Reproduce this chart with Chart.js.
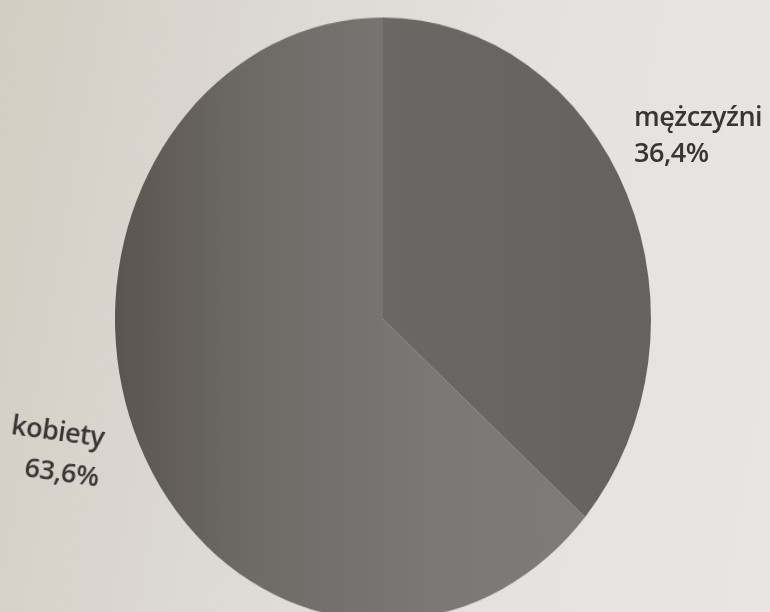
<!DOCTYPE html>
<html>
<head>
<meta charset="utf-8">
<script src="https://cdn.jsdelivr.net/npm/chart.js@4"></script>
<style>
  html, body { margin: 0; padding: 0; }
  body {
    width: 770px; height: 612px; overflow: hidden; position: relative;
    background: linear-gradient(100deg, #d3cdc3 0%, #dcd8d2 30%, #e4e1de 60%, #e8e6e5 100%);
    font-family: "Open Sans", sans-serif;
  }
  .wrap {
    position: absolute; left: 0; top: 0; width: 770px; height: 612px;
    transform-origin: 383px 319px; transform: scaleY(1.125);
  }
  .lbl {
    position: absolute; color: #383532; font-size: 27px; font-weight: 600;
    letter-spacing: -0.5px; white-space: nowrap;
  }
  #lblM { left: 634px; top: 98px; line-height: 36px; }
  #lblK { left: 4px; top: 410px; line-height: 40px; text-align: right; width: 98px; transform: rotate(8deg); }
</style>
</head>
<body>
<div class="wrap"><canvas id="pie" width="770" height="612"></canvas></div>
<div class="lbl" id="lblM"></div>
<div class="lbl" id="lblK"></div>
<script>
// === Data ===
const categories = ["mężczyźni", "kobiety"];
const shares = [36.4, 63.6];

function fmt(v) {
  return v.toFixed(1).replace(".", ",") + "%";
}

document.getElementById("lblM").innerHTML = categories[0] + "<br>" + fmt(shares[0]);
document.getElementById("lblK").innerHTML = categories[1] + "<br>" + fmt(shares[1]);

// === Slice fills: flat grey with a bit of photo shading ===
function sliceFill(c) {
  const chart = c.chart;
  const area = chart.chartArea;
  const flat = ["#6a6664", "#787572"];
  if (!area) return flat[c.dataIndex];
  const g = chart.ctx.createLinearGradient(area.left, 0, area.right, 0);
  if (c.dataIndex === 0) {
    g.addColorStop(0.5, "#6b6765");
    g.addColorStop(1, "#66625f");
  } else {
    g.addColorStop(0, "#5a5550");
    g.addColorStop(0.25, "#6e6a66");
    g.addColorStop(0.6, "#7b7876");
    g.addColorStop(1, "#7f7c7b");
  }
  return g;
}

new Chart(document.getElementById("pie").getContext("2d"), {
  type: "pie",
  data: {
    labels: categories,
    datasets: [
      {
        data: shares,
        backgroundColor: sliceFill,
        borderWidth: 0,
      },
    ],
  },
  options: {
    responsive: false,
    animation: false,
    layout: { padding: { left: 115, right: 119, top: 51, bottom: 25 } },
    plugins: {
      legend: { display: false },
      tooltip: { enabled: false },
    },
  },
});
</script>
</body>
</html>
